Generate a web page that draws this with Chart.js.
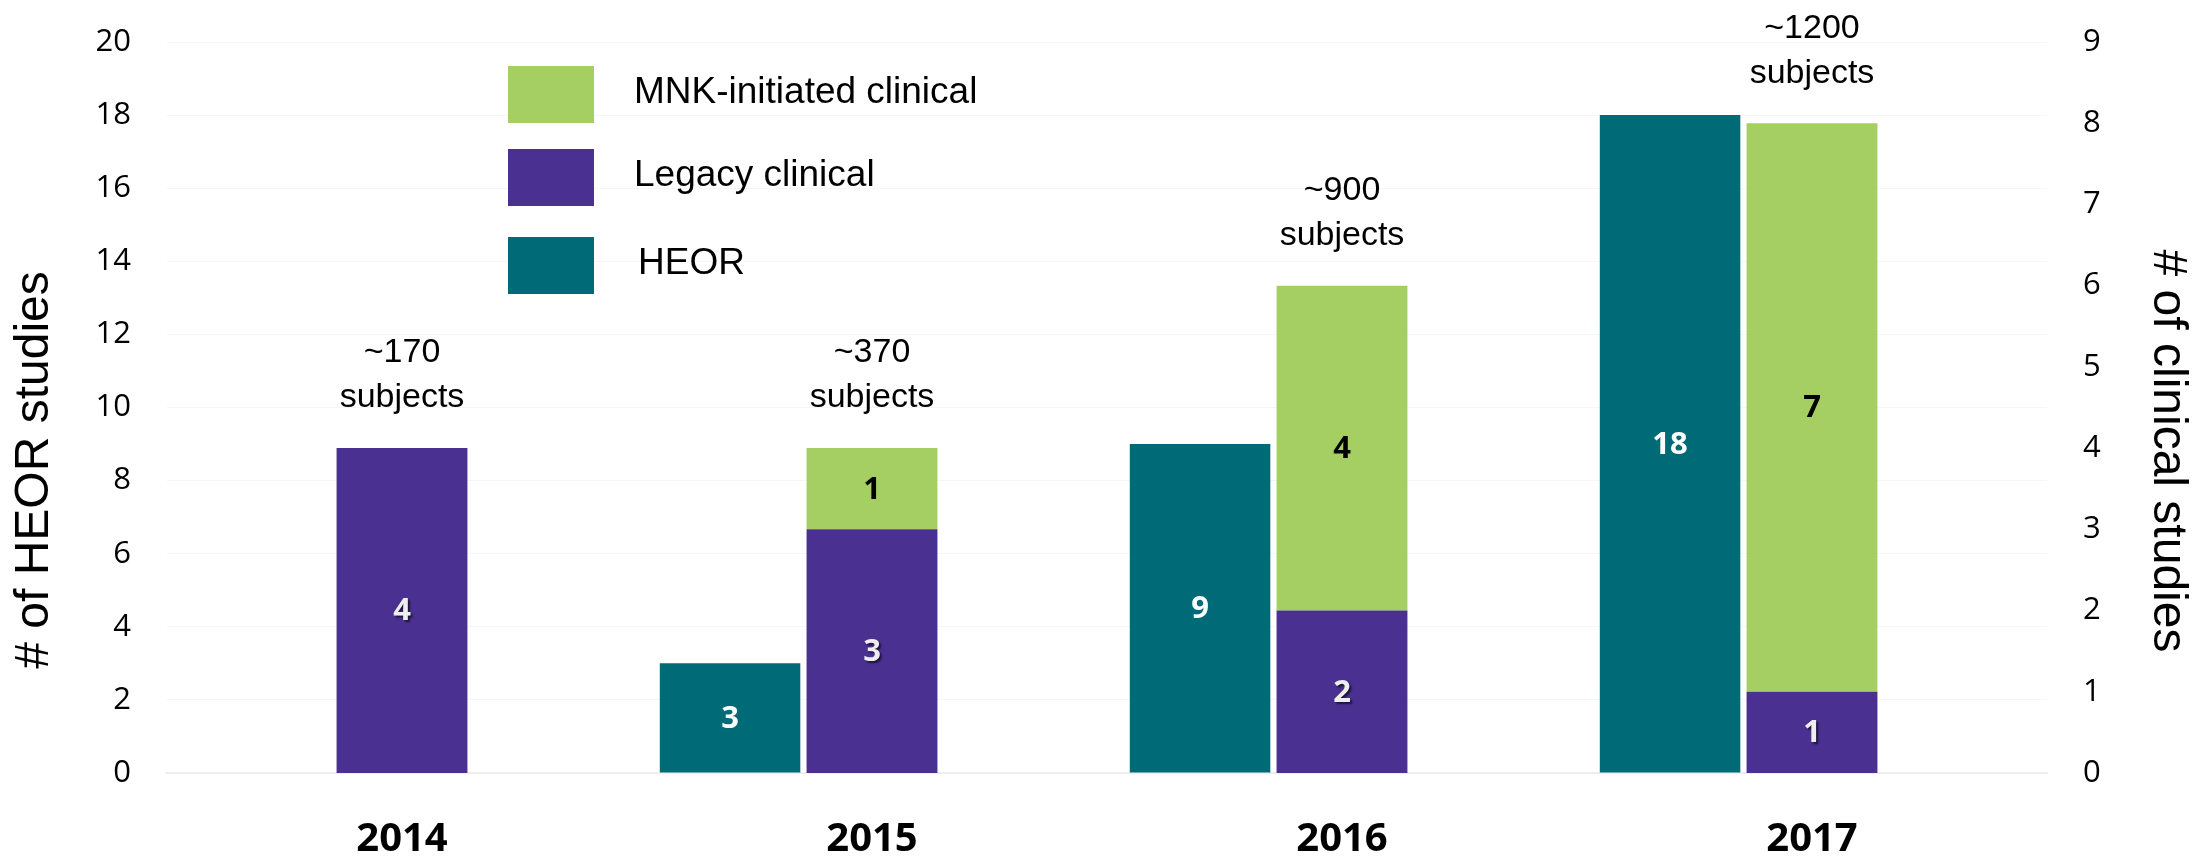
<!DOCTYPE html>
<html>
<head>
<meta charset="utf-8">
<script src="https://cdn.jsdelivr.net/npm/chart.js@4/dist/chart.umd.min.js"></script>
<style>
    html, body { margin: 0; padding: 0; background: #ffffff; }
    #wrap { width: 2208px; height: 857px; position: relative; }
</style>
</head>
<body>
<div id="wrap"><canvas id="studiesChart"></canvas></div>
<script>
// Chart data
const years = ['2014', '2015', '2016', '2017'];
const heorStudies = [null, 3, 9, 18];
const legacyClinical = [4, 3, 2, 1];
const mnkClinical = [0, 1, 4, 7];
const subjectCounts = ['~170', '~370', '~900', '~1200'];
const heorTicks = [0, 2, 4, 6, 8, 10, 12, 14, 16, 18, 20];
const clinicalTicks = [0, 1, 2, 3, 4, 5, 6, 7, 8, 9];

const TEAL = '#006b76';
const PURPLE = '#4a3090';
const GREEN = '#a5cf62';

// value labels inside the bars
const barLabels = {
    id: 'barLabels',
    afterDatasetsDraw(chart) {
        const ctx = chart.ctx;
        const styles = [
            { color: '#ffffff', shadow: false },
            { color: '#eeeeee', shadow: true },
            { color: '#000000', shadow: false }
        ];
        ctx.save();
        ctx.font = 'bold 31px "Open Sans"';
        ctx.textAlign = 'center';
        ctx.textBaseline = 'middle';
        styles.forEach((st, di) => {
            const meta = chart.getDatasetMeta(di);
            const values = chart.data.datasets[di].data;
            meta.data.forEach((bar, i) => {
                if (!values[i]) return;
                const p = bar.getProps(['x', 'y', 'base'], true);
                if (st.shadow) {
                    ctx.shadowColor = 'rgba(0,0,0,0.6)';
                    ctx.shadowOffsetX = 2;
                    ctx.shadowOffsetY = 2;
                    ctx.shadowBlur = 2;
                } else {
                    ctx.shadowColor = 'transparent';
                }
                ctx.fillStyle = st.color;
                ctx.fillText(String(values[i]), p.x, (p.y + p.base) / 2 + 1);
            });
        });
        ctx.restore();
    }
};

// "~N subjects" above the clinical bars
const subjectNotes = {
    id: 'subjectNotes',
    afterDatasetsDraw(chart) {
        const ctx = chart.ctx;
        const yR = chart.scales.yR;
        const meta = chart.getDatasetMeta(1);
        ctx.save();
        ctx.font = '34px "Liberation Sans", Arial, sans-serif';
        ctx.fillStyle = '#000000';
        ctx.textAlign = 'center';
        ctx.textBaseline = 'middle';
        subjectCounts.forEach((txt, i) => {
            const top = yR.getPixelForValue(legacyClinical[i] + mnkClinical[i]);
            const x = meta.data[i].x;
            ctx.fillText('subjects', x, top - 50);
            ctx.fillText(txt, x, top - 95);
        });
        ctx.restore();
    }
};

// legend block and axis titles
const sideText = {
    id: 'sideText',
    afterDraw(chart) {
        const ctx = chart.ctx;
        const area = chart.chartArea;
        const items = [2, 1, 0];
        ctx.save();
        ctx.font = '37px "Liberation Sans", Arial, sans-serif';
        ctx.textBaseline = 'middle';
        ctx.textAlign = 'left';
        items.forEach((di, k) => {
            const ds = chart.data.datasets[di];
            const top = [66, 149, 237][k];
            ctx.fillStyle = ds.backgroundColor;
            ctx.fillRect(area.left + 341, top, 86, 57);
            ctx.fillStyle = '#000000';
            ctx.fillText(ds.label, area.left + 467 + (di === 0 ? 4 : 0), top + 27);
        });

        ctx.font = '48px "Liberation Sans", Arial, sans-serif';
        ctx.textAlign = 'center';
        ctx.save();
        ctx.translate(35, 470);
        ctx.rotate(-Math.PI / 2);
        ctx.fillText('# of HEOR studies', 0, 0);
        ctx.restore();
        ctx.save();
        ctx.translate(2167, 451);
        ctx.rotate(Math.PI / 2);
        ctx.fillText('# of clinical studies', 0, 0);
        ctx.restore();
        ctx.restore();
    }
};

function fixSide(width) {
    return function (scale) {
        scale.width = width;
        scale.paddingTop = 0;
        scale.paddingBottom = 0;
    };
}

const ctx1 = document.getElementById('studiesChart').getContext('2d');
const studiesChart = new Chart(ctx1, {
    type: 'bar',
    data: {
        labels: years,
        datasets: [{
            label: 'HEOR',
            data: heorStudies,
            backgroundColor: TEAL,
            yAxisID: 'yL',
            stack: 'heor',
            barPercentage: 0.99
        }, {
            label: 'Legacy clinical',
            data: legacyClinical,
            backgroundColor: PURPLE,
            yAxisID: 'yR',
            stack: 'clinical',
            barPercentage: 0.922
        }, {
            label: 'MNK-initiated clinical',
            data: mnkClinical,
            backgroundColor: GREEN,
            yAxisID: 'yR',
            stack: 'clinical',
            barPercentage: 0.922
        }, {
            label: '',
            data: [null, null, null, null],
            backgroundColor: 'transparent',
            yAxisID: 'yL',
            stack: 'spacer'
        }]
    },
    options: {
        responsive: true,
        maintainAspectRatio: false,
        animation: false,
        categoryPercentage: 0.906,
        layout: { padding: { top: 42, left: 0, right: 0, bottom: 0 } },
        plugins: {
            legend: { display: false },
            tooltip: { enabled: false }
        },
        scales: {
            x: {
                grid: { display: false, drawTicks: false },
                border: { display: true, color: '#eeeeee', width: 2 },
                ticks: {
                    padding: 43,
                    color: '#000000',
                    font: { family: 'Open Sans', size: 40, weight: 'bold' }
                },
                afterFit(scale) { scale.height = 84; }
            },
            yL: {
                position: 'left',
                min: 0,
                max: 20,
                afterBuildTicks(scale) { scale.ticks = heorTicks.map(v => ({ value: v })); },
                grid: { color: '#f6f6f6', drawTicks: false },
                border: { display: false },
                ticks: {
                    padding: 36,
                    color: '#000000',
                    font: { family: 'Open Sans', size: 31 }
                },
                afterFit: fixSide(167)
            },
            yR: {
                position: 'right',
                min: 0,
                max: 9,
                afterBuildTicks(scale) { scale.ticks = clinicalTicks.map(v => ({ value: v })); },
                grid: { display: false, drawTicks: false },
                border: { display: false },
                ticks: {
                    padding: 36,
                    color: '#000000',
                    font: { family: 'Open Sans', size: 31 }
                },
                afterFit: fixSide(161)
            }
        }
    },
    plugins: [barLabels, subjectNotes, sideText]
});
</script>
</body>
</html>
